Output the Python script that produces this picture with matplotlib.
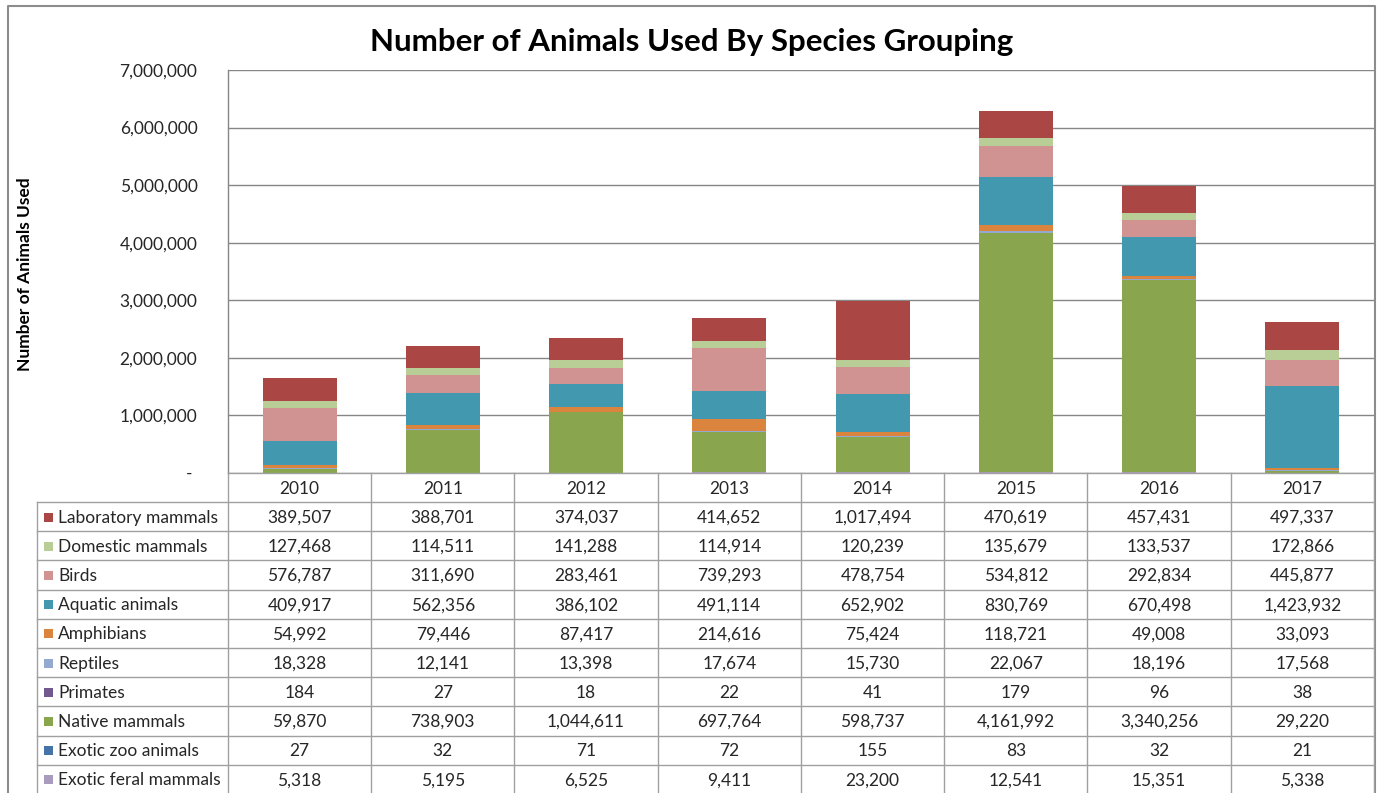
import numpy as np
import matplotlib
matplotlib.use("Agg")
import matplotlib.pyplot as plt
from matplotlib.ticker import FuncFormatter

plt.rcParams['font.family'] = ['Lato', 'DejaVu Sans']

years = ['2010', '2011', '2012', '2013', '2014', '2015', '2016', '2017']

# series listed bottom of the stack first
species = ['Exotic feral mammals', 'Exotic zoo animals', 'Native mammals', 'Primates',
           'Reptiles', 'Amphibians', 'Aquatic animals', 'Birds',
           'Domestic mammals', 'Laboratory mammals']

exotic_feral = [5318, 5195, 6525, 9411, 23200, 12541, 15351, 5338]
exotic_zoo = [27, 32, 71, 72, 155, 83, 32, 21]
native = [59870, 738903, 1044611, 697764, 598737, 4161992, 3340256, 29220]
primates = [184, 27, 18, 22, 41, 179, 96, 38]
reptiles = [18328, 12141, 13398, 17674, 15730, 22067, 18196, 17568]
amphibians = [54992, 79446, 87417, 214616, 75424, 118721, 49008, 33093]
aquatic = [409917, 562356, 386102, 491114, 652902, 830769, 670498, 1423932]
birds = [576787, 311690, 283461, 739293, 478754, 534812, 292834, 445877]
domestic = [127468, 114511, 141288, 114914, 120239, 135679, 133537, 172866]
laboratory = [389507, 388701, 374037, 414652, 1017494, 470619, 457431, 497337]

series = [exotic_feral, exotic_zoo, native, primates, reptiles,
          amphibians, aquatic, birds, domestic, laboratory]
colors = ['#A99BBD', '#4572A7', '#89A54E', '#71588F', '#93A9CF',
          '#DB843D', '#4198AF', '#D09392', '#B9CD96', '#AA4643']

W, H = 1381, 793
fig = plt.figure(figsize=(W / 100, H / 100), dpi=100)
fig.patch.set_facecolor('white')

txt = '#262626'
grid = '#868686'
cell = '#A0A0A0'

# plot area in pixels
px_l, px_r, px_t, px_b = 228, 1374, 70, 473

ax = fig.add_axes([px_l / W, 1 - px_b / H, (px_r - px_l) / W, (px_b - px_t) / H])
x = np.arange(len(years))
bottom = np.zeros(len(years))
for vals, c in zip(series, colors):
    ax.bar(x, vals, width=0.515, bottom=bottom, color=c, linewidth=0, zorder=3)
    bottom += np.array(vals)

ax.set_xlim(-0.5, len(years) - 0.5)
ax.set_ylim(0, 7000000)
ax.set_yticks(np.arange(0, 7000001, 1000000))
ax.yaxis.set_major_formatter(FuncFormatter(lambda v, p: '- ' if v == 0 else f'{int(v):,}'))
ax.tick_params(axis='y', length=0, pad=22, labelsize=12.5, labelcolor=txt)
ax.set_xticks([])
ax.grid(axis='y', color=grid, linewidth=1.0, zorder=0)
for s in ['top', 'right', 'bottom']:
    ax.spines[s].set_visible(False)
ax.spines['left'].set_color(grid)
ax.spines['left'].set_linewidth(1.0)

# overlay axes in pixel units for the frame, title and data table
ov = fig.add_axes([0, 0, 1, 1], facecolor='none')
ov.set_xlim(0, W)
ov.set_ylim(H, 0)
ov.axis('off')

ov.plot([8, 8, 1375, 1375], [H + 5, 6, 6, H + 5], color='#8C8C8C', linewidth=1.5)
ov.text(692, 42, 'Number of Animals Used By Species Grouping', ha='center', va='center',
        fontsize=22.5, fontweight='bold', color='black')
ov.text(25, 274, 'Number of Animals Used', rotation=90, ha='center', va='center',
        fontsize=12.5, fontweight='bold', color='black')

# data table
col_w = (px_r - px_l) / len(years)
head_t, head_b = px_b, 502
row_h = 29.2
leg_l = 37
n_rows = len(species)
tab_b = head_b + n_rows * row_h

# horizontal rules
ov.plot([px_l, px_r], [head_t, head_t], color=cell, linewidth=1.0)
for i in range(n_rows + 1):
    yy = head_b + i * row_h
    ov.plot([leg_l, px_r], [yy, yy], color=cell, linewidth=1.0)
# vertical rules
ov.plot([leg_l, leg_l], [head_b, tab_b], color=cell, linewidth=1.0)
for j in range(len(years) + 1):
    xx = px_l + j * col_w
    ov.plot([xx, xx], [head_t, tab_b], color=cell, linewidth=1.0)

for j, yr in enumerate(years):
    ov.text(px_l + (j + 0.5) * col_w, (head_t + head_b) / 2 + 1, yr,
            ha='center', va='center', fontsize=12.5, color=txt)

# table rows go top of the stack first
for i, (name, vals, c) in enumerate(zip(species[::-1], series[::-1], colors[::-1])):
    yc = head_b + (i + 0.5) * row_h + 1
    ov.add_patch(plt.Rectangle((44, yc - 5), 9, 9, facecolor=c, edgecolor='none'))
    ov.text(58, yc, name, ha='left', va='center', fontsize=12.5, color=txt)
    for j, v in enumerate(vals):
        ov.text(px_l + (j + 0.5) * col_w, yc, f'{v:,}', ha='center', va='center',
                fontsize=12.5, color=txt)

fig.savefig('out.png', dpi=100, facecolor='white')
